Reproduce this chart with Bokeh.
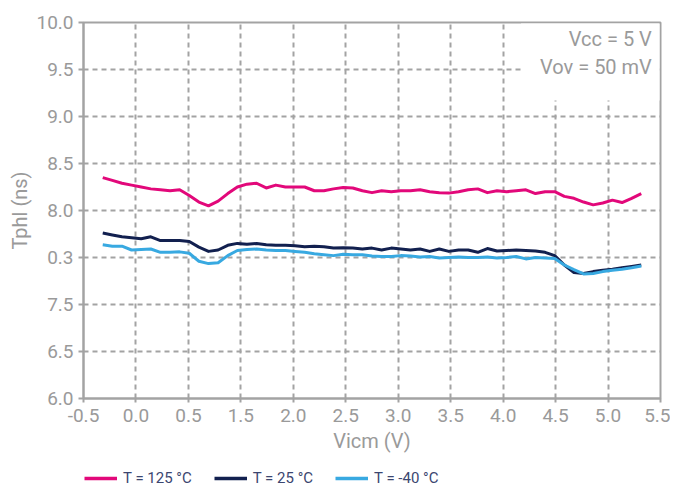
import numpy as np
from bokeh.plotting import figure
from bokeh.layouts import column
from bokeh.models import (Range1d, FixedTicker, CustomJSTickFormatter, Legend,
                          LegendItem, Label, BoxAnnotation)
from bokeh.embed import file_html
from bokeh.resources import INLINE

# ---------------- data ----------------
vicm = [-0.3, -0.2, -0.1, 0.0, 0.1, 0.2, 0.3, 0.4, 0.5, 0.6, 0.7, 0.8, 0.9,
        1.0, 1.1, 1.2, 1.3, 1.4, 1.5, 1.6, 1.7, 1.8, 1.9, 2.0, 2.1, 2.2, 2.3,
        2.4, 2.5, 2.6, 2.7, 2.8, 2.9, 3.0, 3.1, 3.2, 3.3, 3.4, 3.5, 3.6, 3.7,
        3.8, 3.9, 4.0, 4.1, 4.2, 4.3, 4.4, 4.5, 4.6, 4.7, 4.8, 4.9, 5.0, 5.1,
        5.2, 5.3]

tphl_125 = [8.35, 8.32, 8.29, 8.27, 8.25, 8.23, 8.22, 8.21, 8.22, 8.16, 8.09,
            8.05, 8.10, 8.18, 8.25, 8.28, 8.29, 8.24, 8.27, 8.25, 8.25, 8.25,
            8.21, 8.21, 8.23, 8.245, 8.24, 8.21, 8.19, 8.21, 8.20, 8.21, 8.21,
            8.22, 8.20, 8.19, 8.185, 8.20, 8.22, 8.23, 8.19, 8.21, 8.20, 8.21,
            8.22, 8.18, 8.20, 8.20, 8.15, 8.13, 8.09, 8.06, 8.08, 8.11, 8.085,
            8.13, 8.18]

tphl_25 = [7.76, 7.74, 7.72, 7.71, 7.70, 7.72, 7.68, 7.68, 7.68, 7.67, 7.61,
           7.565, 7.58, 7.63, 7.65, 7.64, 7.65, 7.635, 7.63, 7.63, 7.625,
           7.615, 7.62, 7.615, 7.60, 7.605, 7.60, 7.59, 7.60, 7.58, 7.60, 7.59,
           7.58, 7.59, 7.565, 7.59, 7.565, 7.58, 7.58, 7.555, 7.595, 7.57,
           7.575, 7.58, 7.575, 7.57, 7.555, 7.52, 7.42, 7.34, 7.33, 7.35,
           7.365, 7.375, 7.39, 7.405, 7.42]

tphl_m40 = [7.635, 7.62, 7.62, 7.58, 7.585, 7.59, 7.555, 7.555, 7.56, 7.545,
            7.46, 7.435, 7.445, 7.52, 7.575, 7.585, 7.59, 7.58, 7.575, 7.575,
            7.565, 7.555, 7.54, 7.53, 7.52, 7.535, 7.53, 7.53, 7.515, 7.51,
            7.51, 7.52, 7.515, 7.505, 7.51, 7.495, 7.50, 7.505, 7.50, 7.50,
            7.505, 7.495, 7.50, 7.51, 7.485, 7.50, 7.495, 7.49, 7.42, 7.37,
            7.325, 7.33, 7.35, 7.365, 7.375, 7.39, 7.41]

series_labels = ["T = 125 °C", "T = 25 °C", "T = -40 °C"]
series_colors = ["#e2087a", "#12204f", "#38a9e1"]
series_values = [tphl_125, tphl_25, tphl_m40]

# tick labels exactly as printed on the reference axes
x_tick_labels = ["-0.5", "0.0", "0.5", "1.5", "2.0", "2.5", "3.0", "3.5",
                 "4.0", "4.5", "5.0", "5.5"]
y_tick_labels = ["6.0", "6.5", "7.5", "0.3", "8.0", "8.5", "9.0", "9.5", "10.0"]

notes = ["Vcc = 5 V", "Vov = 50 mV"]

# ---------------- main figure ----------------
GRAY = "#a3a3a3"
TXT = "#9a9a9a"
FONT = "Roboto"

p = figure(width=670, height=463, output_backend="svg", toolbar_location=None,
           x_range=Range1d(-0.5, 5.5), y_range=Range1d(6.0, 10.0),
           min_border_left=83, min_border_right=10, min_border_top=22,
           min_border_bottom=65)

p.background_fill_color = "white"
p.border_fill_color = "white"
p.outline_line_color = GRAY
p.outline_line_width = 2

x_ticks = list(np.linspace(-0.5, 5.5, len(x_tick_labels)))
y_ticks = list(np.linspace(6.0, 10.0, len(y_tick_labels)))

p.xaxis.ticker = FixedTicker(ticks=x_ticks)
p.yaxis.ticker = FixedTicker(ticks=y_ticks)
p.xaxis.formatter = CustomJSTickFormatter(
    args=dict(labels=x_tick_labels),
    code="const i = Math.round((tick + 0.5) * 11 / 6); return labels[i];")
p.yaxis.formatter = CustomJSTickFormatter(
    args=dict(labels=y_tick_labels),
    code="const i = Math.round((tick - 6.0) * 2); return labels[i];")

for ax in (p.xaxis, p.yaxis):
    ax.axis_line_color = GRAY
    ax.axis_line_width = 2
    ax.major_tick_line_color = GRAY
    ax.major_tick_line_width = 2
    ax.major_tick_in = 0
    ax.minor_tick_line_color = None
    ax.major_label_text_font = FONT
    ax.major_label_text_font_size = "19px"
    ax.major_label_text_color = TXT
    ax.axis_label_text_font = FONT
    ax.axis_label_text_font_size = "20px"
    ax.axis_label_text_font_style = "normal"
    ax.axis_label_text_color = TXT

p.xaxis.major_tick_out = 4
p.yaxis.major_tick_out = 5
p.xaxis.major_label_standoff = 6
p.yaxis.major_label_standoff = 5
p.xaxis.axis_label = "Vicm (V)"
p.yaxis.axis_label = "Tphl (ns)"
p.xaxis.axis_label_standoff = 4
p.yaxis.axis_label_standoff = 1

for g in (p.xgrid, p.ygrid):
    g.grid_line_color = GRAY
    g.grid_line_width = 2
    g.grid_line_dash = "5 4"

# white panel behind the test-condition notes (hides the grid there)
p.add_layout(BoxAnnotation(left=4.05, right=5.49, bottom=9.17, top=9.99,
                           fill_color="white", fill_alpha=1.0, line_alpha=0,
                           level="underlay"))

for ys, col in zip(series_values, series_colors):
    p.line(vicm, ys, line_color=col, line_width=3, line_join="round")

for txt, yv in zip(notes, [9.82, 9.53]):
    p.add_layout(Label(x=5.41, y=yv, text=txt, text_align="right",
                       text_baseline="middle", text_font=FONT,
                       text_font_size="20px", text_color=TXT))

# ---------------- legend strip below the chart ----------------
# (same series drawn out of view, only so the legend has its line swatches)
lg = figure(width=670, height=24, output_backend="svg", toolbar_location=None,
            x_range=Range1d(100, 101), y_range=Range1d(100, 101),
            x_axis_location=None, y_axis_location=None,
            min_border=0, outline_line_color=None)
lg.grid.visible = False
lg.background_fill_color = "white"
lg.border_fill_color = "white"

proxies = [lg.line(vicm, ys, line_color=c, line_width=3.5)
           for ys, c in zip(series_values, series_colors)]
legend = Legend(items=[LegendItem(label=l, renderers=[r])
                       for l, r in zip(series_labels, proxies)],
                orientation="horizontal", location=(1, 0),
                glyph_width=33, glyph_height=16, label_standoff=6,
                spacing=22, padding=0, margin=0,
                border_line_alpha=0, background_fill_alpha=0,
                label_text_font=FONT, label_text_font_size="15px",
                label_text_color="#3b4670", label_height=16)
lg.add_layout(legend, "center")

layout = column(p, lg, spacing=0)
open("out.html", "w").write(file_html(layout, INLINE))
